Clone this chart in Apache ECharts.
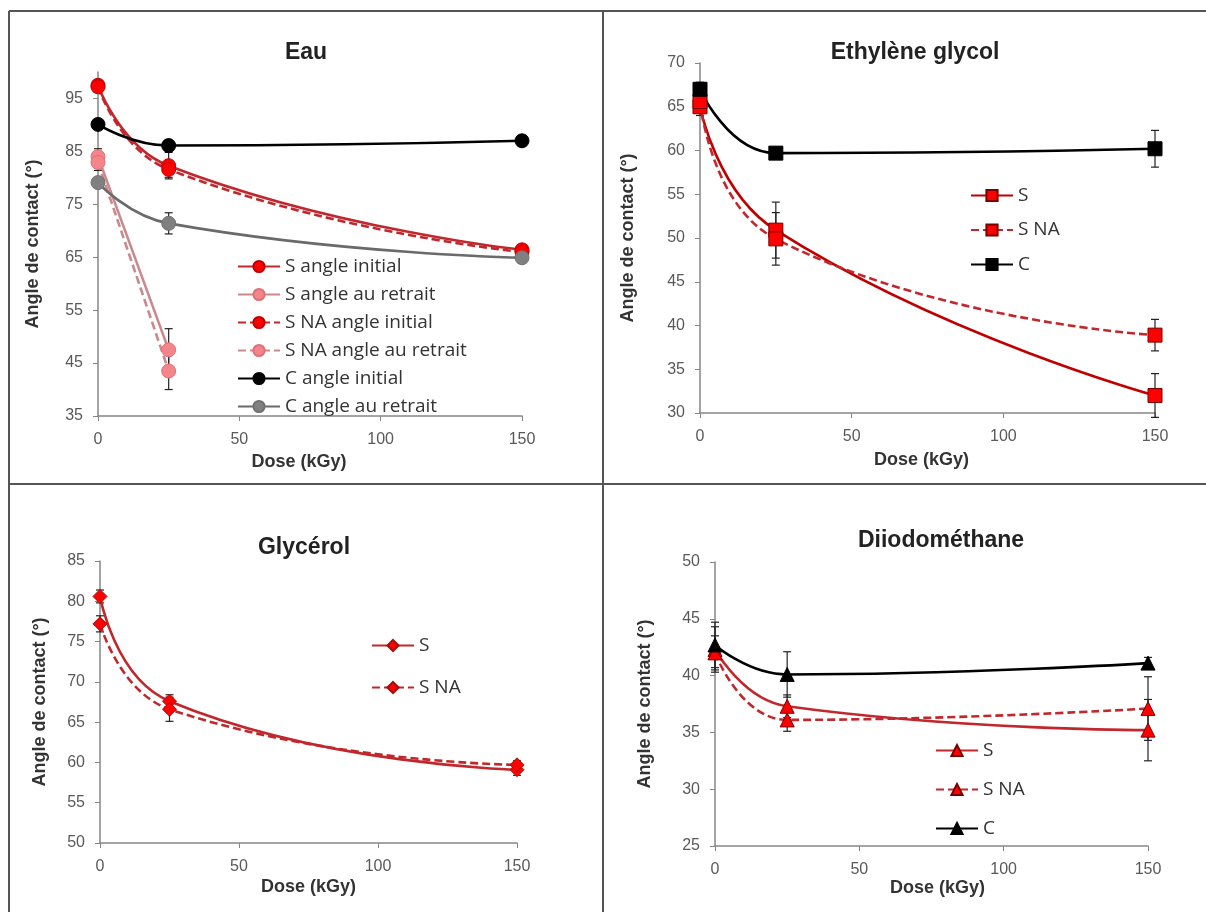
<!DOCTYPE html>
<html>
<head>
<meta charset="utf-8">
<script src="https://cdn.jsdelivr.net/npm/echarts@6/dist/echarts.min.js"></script>
<style>
html,body{margin:0;padding:0;background:#fff;}
#chart{width:1206px;height:912px;}
</style>
</head>
<body>
<div id="chart"></div>
<script>
// ---------- DATA ----------
const doses = [0, 25, 150];
const dosesRetrait = [0, 25];
const xTicks = [0, 50, 100, 150];

// Eau
const eauSInit = [97.5, 82.3, 66.4];
const eauSInitErr = [1.0, 2.5, 1.0];
const eauSRet = [84.0, 47.5];
const eauSRetErr = [1.5, 4.0];
const eauSNAInit = [97.2, 81.6, 66.0];
const eauSNAInitErr = [1.0, 1.5, 1.0];
const eauSNARet = [82.9, 43.5];
const eauSNARetErr = [1.5, 3.5];
const eauCInit = [90.1, 86.1, 87.0];
const eauCInitErr = [0.5, 1.0, 1.0];
const eauCRet = [79.1, 71.4, 64.9];
const eauCRetErr = [0.8, 2.0, 1.0];

// Ethylène glycol
const egS = [65.0, 50.9, 32.0];
const egSErr = [1.0, 3.2, 2.5];
const egSNA = [65.6, 49.9, 38.9];
const egSNAErr = [1.0, 3.0, 1.8];
const egC = [67.0, 59.7, 60.2];
const egCErr = [0.8, 0.5, 2.1];

// Glycérol
const glyS = [80.6, 67.6, 59.1];
const glySErr = [0.8, 0.8, 0.7];
const glySNA = [77.2, 66.6, 59.7];
const glySNAErr = [1.0, 1.5, 0.5];

// Diiodométhane
const diS = [42.3, 37.3, 35.2];
const diSErr = [2.0, 1.0, 2.7];
const diSNA = [42.0, 36.1, 37.1];
const diSNAErr = [1.5, 1.0, 2.8];
const diC = [42.7, 40.1, 41.1];
const diCErr = [2.0, 2.0, 0.5];

// axis ranges [min, max, interval]
const eauY = [35, 100, 10];
const egY = [30, 70, 5];
const glyY = [50, 85, 5];
const diY = [25, 50, 5];

const titles = ['Eau', 'Ethylène glycol', 'Glycérol', 'Diiodométhane'];
const xName = 'Dose (kGy)';
const yName = 'Angle de contact (°)';

// ---------- STYLES ----------
const RED = '#FF0000', REDLINE = '#C0282D', REDEDGE = '#A01010';
const PINK = '#F4868B', PINKLINE = '#C98A8E';
const BLACK = '#000000';
const GRAYM = '#808080', GRAYLINE = '#6A6A6A';
const DASH = [8, 4];

const grids = [
  {left: 98, top: 72, width: 424, height: 344},
  {left: 700, top: 63, width: 455, height: 350},
  {left: 100, top: 561, width: 417, height: 282},
  {left: 715, top: 562, width: 433, height: 284}
];
const yRanges = [eauY, egY, glyY, diY];
const yNameGaps = [56, 63, 51, 61];
const xNameGaps = [37, 38, 35, 23];
const xNamePad = [[0, 22, 0, 0], [0, 12, 0, 0], [0, 0, 0, 0], [0, 0, 0, 12]];

function mkLine(name, xs, ys, gi, o) {
  return {
    type: 'line', name: name, xAxisIndex: gi, yAxisIndex: gi,
    data: xs.map((x, i) => [x, ys[i]]),
    smooth: 0.5,
    symbol: o.symbol, symbolSize: o.size,
    itemStyle: {color: o.fill, borderColor: o.edge, borderWidth: 1},
    lineStyle: {color: o.line, width: 2.6, type: o.dash ? DASH : 'solid'},
    emphasis: {disabled: true},
    z: 3
  };
}
function mkErr(xs, ys, es, gi) {
  return {
    type: 'custom', xAxisIndex: gi, yAxisIndex: gi, z: 1, silent: true,
    data: xs.map((x, i) => [x, ys[i], es[i]]),
    encode: {x: 0, y: 1},
    renderItem: function (params, api) {
      const x = api.value(0), y = api.value(1), e = api.value(2);
      const t = api.coord([x, y + e]), b = api.coord([x, y - e]);
      const c = 4, st = {stroke: '#222', lineWidth: 1.2};
      return {type: 'group', children: [
        {type: 'line', shape: {x1: t[0], y1: t[1], x2: b[0], y2: b[1]}, style: st},
        {type: 'line', shape: {x1: t[0] - c, y1: t[1], x2: t[0] + c, y2: t[1]}, style: st},
        {type: 'line', shape: {x1: b[0] - c, y1: b[1], x2: b[0] + c, y2: b[1]}, style: st}
      ]};
    }
  };
}

const series = [];
const MS = 14;
const eauDefs = [
  ['S angle initial', doses, eauSInit, eauSInitErr, {symbol: 'circle', size: MS, fill: RED, edge: '#C00000', line: REDLINE}],
  ['S angle au retrait', dosesRetrait, eauSRet, eauSRetErr, {symbol: 'circle', size: MS, fill: PINK, edge: '#E07078', line: PINKLINE}],
  ['S NA angle initial', doses, eauSNAInit, eauSNAInitErr, {symbol: 'circle', size: MS, fill: RED, edge: '#C00000', line: REDLINE, dash: true}],
  ['S NA angle au retrait', dosesRetrait, eauSNARet, eauSNARetErr, {symbol: 'circle', size: MS, fill: PINK, edge: '#E07078', line: PINKLINE, dash: true}],
  ['C angle initial', doses, eauCInit, eauCInitErr, {symbol: 'circle', size: MS, fill: BLACK, edge: BLACK, line: BLACK}],
  ['C angle au retrait', doses, eauCRet, eauCRetErr, {symbol: 'circle', size: MS, fill: GRAYM, edge: '#707070', line: GRAYLINE}]
];
const egDefs = [
  ['S#2', doses, egS, egSErr, {symbol: 'rect', size: MS, fill: RED, edge: '#7A0000', line: '#C00000'}],
  ['S NA#2', doses, egSNA, egSNAErr, {symbol: 'rect', size: MS, fill: RED, edge: '#7A0000', line: REDLINE, dash: true}],
  ['C#2', doses, egC, egCErr, {symbol: 'rect', size: MS, fill: BLACK, edge: BLACK, line: BLACK}]
];
const glyDefs = [
  ['S#3', doses, glyS, glySErr, {symbol: 'diamond', size: MS, fill: RED, edge: REDEDGE, line: REDLINE}],
  ['S NA#3', doses, glySNA, glySNAErr, {symbol: 'diamond', size: MS, fill: RED, edge: REDEDGE, line: REDLINE, dash: true}]
];
const diDefs = [
  ['S#4', doses, diS, diSErr, {symbol: 'triangle', size: MS, fill: RED, edge: '#7A0000', line: REDLINE}],
  ['S NA#4', doses, diSNA, diSNAErr, {symbol: 'triangle', size: MS, fill: RED, edge: '#7A0000', line: REDLINE, dash: true}],
  ['C#4', doses, diC, diCErr, {symbol: 'triangle', size: MS, fill: BLACK, edge: BLACK, line: BLACK}]
];
const allDefs = [eauDefs, egDefs, glyDefs, diDefs];
allDefs.forEach((defs, gi) => {
  defs.forEach(d => {
    series.push(mkErr(d[1], d[2], d[3], gi));
  });
  defs.forEach(d => {
    series.push(mkLine(d[0], d[1], d[2], gi, d[4]));
  });
});

const legendPos = [
  {left: 232, top: 252, itemGap: 9},
  {left: 965, top: 181, itemGap: 15.5},
  {left: 366, top: 631, itemGap: 23},
  {left: 930, top: 736, itemGap: 20}
];
const legends = allDefs.map((defs, gi) => ({
  orient: 'vertical',
  left: legendPos[gi].left, top: legendPos[gi].top,
  itemGap: legendPos[gi].itemGap,
  itemWidth: 42, itemHeight: 14,
  selectedMode: false,
  data: defs.map(d => d[0]),
  formatter: n => n.split('#')[0],
  textStyle: {fontFamily: 'Open Sans', fontSize: 19, color: '#333'}
}));

const axisLabelStyle = {fontFamily: 'Liberation Sans', fontSize: 16, color: '#595959'};
const axisLineStyle = {lineStyle: {color: '#868686', width: 1.5}};

const xAxes = grids.map((g, gi) => ({
  type: 'value', gridIndex: gi, min: xTicks[0], max: xTicks[xTicks.length - 1],
  interval: xTicks[1] - xTicks[0],
  name: xName, nameLocation: 'middle', nameGap: xNameGaps[gi],
  nameTextStyle: {fontFamily: 'Liberation Sans', fontWeight: 'bold', fontSize: 18, color: '#333', padding: xNamePad[gi]},
  axisLine: axisLineStyle, axisTick: {show: true, length: 5, lineStyle: {color: '#868686'}},
  axisLabel: Object.assign({margin: 16}, axisLabelStyle),
  splitLine: {show: false}
}));
const yAxes = grids.map((g, gi) => ({
  type: 'value', gridIndex: gi, min: yRanges[gi][0], max: yRanges[gi][1], interval: yRanges[gi][2],
  name: yName, nameLocation: 'middle', nameGap: yNameGaps[gi], nameRotate: 90,
  nameTextStyle: {fontFamily: 'Liberation Sans', fontWeight: 'bold', fontSize: 18, color: '#333'},
  axisLine: axisLineStyle, axisTick: {show: true, length: 5, lineStyle: {color: '#868686'}},
  axisLabel: Object.assign({margin: 15, showMaxLabel: gi !== 0}, axisLabelStyle),
  splitLine: {show: false}
}));

const titlePos = [[306, 53], [915, 53], [304, 548], [941, 541]];
const graphics = titles.map((t, i) => ({
  type: 'text', x: titlePos[i][0], y: titlePos[i][1],
  style: {text: t, fontFamily: 'Liberation Sans', fontWeight: 'bold', fontSize: 23, fill: '#222', align: 'center', verticalAlign: 'middle'}
}));
// panel frame
const frameStyle = {stroke: '#555', lineWidth: 2};
graphics.push(
  {type: 'line', shape: {x1: 9, y1: 11, x2: 1206, y2: 11}, style: frameStyle},
  {type: 'line', shape: {x1: 9, y1: 11, x2: 9, y2: 912}, style: frameStyle},
  {type: 'line', shape: {x1: 603, y1: 11, x2: 603, y2: 912}, style: frameStyle},
  {type: 'line', shape: {x1: 9, y1: 484, x2: 1206, y2: 484}, style: frameStyle}
);

const chart = echarts.init(document.getElementById('chart'), null, {renderer: 'canvas'});
chart.setOption({
  animation: false,
  backgroundColor: '#fff',
  grid: grids,
  xAxis: xAxes,
  yAxis: yAxes,
  legend: legends,
  series: series,
  graphic: graphics
});
</script>
</body>
</html>
